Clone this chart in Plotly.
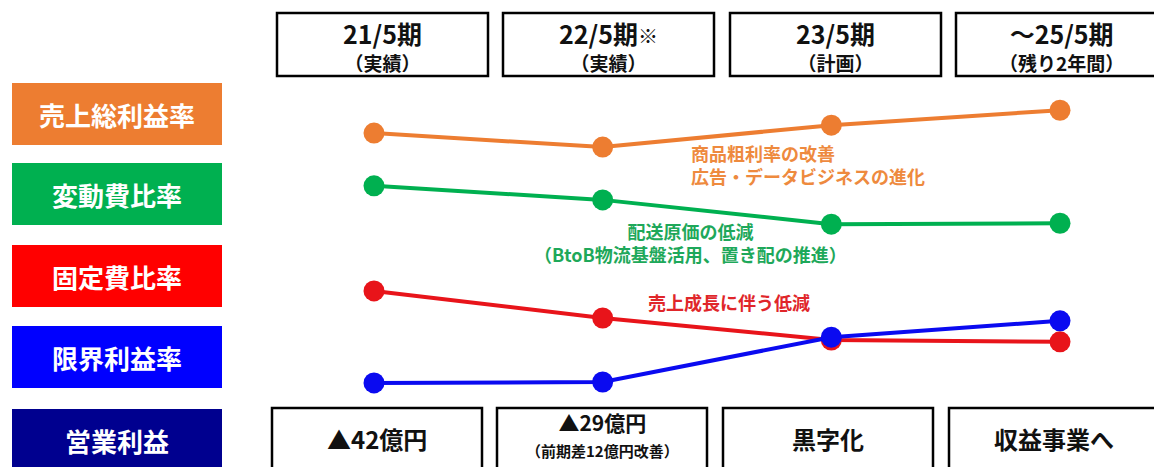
import plotly.graph_objects as go

# ---- data -------------------------------------------------------------
periods = ["21/5期", "22/5期※", "23/5期", "～25/5期"]
period_notes = ["（実績）", "（実績）", "（計画）", "（残り2年間）"]
period_index = [0, 1, 2, 3]

# relative levels of each ratio (index scale, no axis shown)
gross_margin = [71.5, 68.5, 73.2, 76.4]      # 売上総利益率
variable_cost = [60.2, 57.2, 52.0, 52.2]     # 変動費比率
fixed_cost = [37.7, 31.9, 27.2, 26.8]        # 固定費比率
marginal_profit = [18.0, 18.2, 27.8, 31.3]   # 限界利益率

row_labels = ["売上総利益率", "変動費比率", "固定費比率", "限界利益率", "営業利益"]
row_colors = ["#ED7D31", "#00B050", "#FF0000", "#0000FF", "#00008F"]

op_profit_main = ["▲42億円", "▲29億円", "黒字化", "収益事業へ"]
op_profit_sub = ["", "（前期差12億円改善）", "", ""]

notes_gross = ["商品粗利率の改善", "広告・データビジネスの進化"]
notes_variable = ["配送原価の低減", "（BtoB物流基盤活用、置き配の推進）"]
notes_fixed = ["売上成長に伴う低減"]

# ---- layout helpers ---------------------------------------------------
W, H = 1154, 467
FONT = "Noto Sans CJK JP"


def fx(px):
    return px / W


def fy(py):
    return 1 - py / H


fig = go.Figure()

series = [
    (gross_margin, "#ED7D31", "売上総利益率"),
    (variable_cost, "#00B050", "変動費比率"),
    (fixed_cost, "#E8141A", "固定費比率"),
    (marginal_profit, "#0A0AF0", "限界利益率"),
]
for values, color, name in series:
    fig.add_trace(go.Scatter(
        x=period_index, y=values, name=name, mode="lines+markers",
        line=dict(color=color, width=4),
        marker=dict(color=color, size=21),
        showlegend=False, hoverinfo="skip",
    ))

shapes = []
annotations = []

# coloured row labels on the left
label_tops = [83, 163, 245, 326, 409]
for top, text, color in zip(label_tops, row_labels, row_colors):
    bottom = top + 62 if text != "営業利益" else 480
    shapes.append(dict(type="rect", xref="paper", yref="paper",
                       x0=fx(12), x1=fx(222), y0=fy(bottom), y1=fy(top),
                       fillcolor=color, line=dict(width=0), layer="below"))
    annotations.append(dict(xref="paper", yref="paper", x=fx(117),
                            y=fy(top + 31), text=f"<b>{text}</b>",
                            showarrow=False, xanchor="center", yanchor="middle",
                            font=dict(family=FONT, size=26, color="white")))

# period headers: title line plus a smaller note line in one text block
header_left = [277, 503, 730, 956]
for x0, title, note in zip(header_left, periods, period_notes):
    shapes.append(dict(type="rect", xref="paper", yref="paper",
                       x0=fx(x0), x1=fx(x0 + 211), y0=fy(76), y1=fy(13),
                       fillcolor="white", line=dict(color="black", width=2.5)))
    if title.endswith("※"):
        title_html = title[:-1] + "<span style='font-size:20px;font-weight:400'>※</span>"
    else:
        title_html = title
    text = (f"<b><span style='font-size:25px'>{title_html}</span><br>"
            f"<span style='font-size:19px'>{note}</span></b>")
    annotations.append(dict(xref="paper", yref="paper", x=fx(x0 + 105.5), y=fy(45),
                            text=text, showarrow=False,
                            xanchor="center", yanchor="middle", align="center",
                            font=dict(family=FONT, size=21, color="#111111")))

# operating profit boxes
footer_left = [272, 497, 723, 949]
for x0, main, sub in zip(footer_left, op_profit_main, op_profit_sub):
    shapes.append(dict(type="rect", xref="paper", yref="paper",
                       x0=fx(x0), x1=fx(x0 + 210), y0=fy(490), y1=fy(408),
                       fillcolor="white", line=dict(color="black", width=2.5)))
    cx = fx(x0 + 105)
    if sub:
        text = (f"<b><span style='font-size:21px'>{main}</span><br>"
                f"<span style='font-size:15px'>{sub}</span></b>")
        annotations.append(dict(xref="paper", yref="paper", x=cx, y=fy(434),
                                text=text, showarrow=False,
                                xanchor="center", yanchor="middle", align="center",
                                font=dict(family=FONT, size=20, color="#111111")))
    else:
        annotations.append(dict(xref="paper", yref="paper", x=cx, y=fy(438),
                                text=f"<b>{main}</b>", showarrow=False,
                                xanchor="center", yanchor="middle",
                                font=dict(family=FONT, size=24, color="#111111")))

# explanatory notes beside the lines
note_font = dict(family=FONT, size=18)
annotations.append(dict(xref="paper", yref="paper", x=fx(689), y=fy(164),
                        text="<b>" + "<br>".join(notes_gross) + "</b>",
                        showarrow=False, xanchor="left", yanchor="middle", align="left",
                        font=dict(**note_font, color="#EE8A3E")))
annotations.append(dict(xref="paper", yref="paper", x=fx(690), y=fy(242),
                        text="<b>" + "<br>".join(notes_variable) + "</b>",
                        showarrow=False, xanchor="center", yanchor="middle", align="center",
                        font=dict(**note_font, color="#1EA85A")))
annotations.append(dict(xref="paper", yref="paper", x=fx(729), y=fy(302),
                        text="<b>" + notes_fixed[0] + "</b>",
                        showarrow=False, xanchor="center", yanchor="middle",
                        font=dict(**note_font, color="#E0262A")))

# x positions: period 0 at 374px, period 3 at 1060px
pitch = (1060 - 374) / 3
fig.update_layout(
    width=W, height=H,
    margin=dict(l=0, r=0, t=0, b=0),
    paper_bgcolor="white", plot_bgcolor="white",
    xaxis=dict(range=[-374 / pitch, (W - 374) / pitch], visible=False, fixedrange=True),
    yaxis=dict(range=[0, 100], visible=False, fixedrange=True),
    shapes=shapes, annotations=annotations,
    font=dict(family=FONT),
)

fig.write_html("out.html")
